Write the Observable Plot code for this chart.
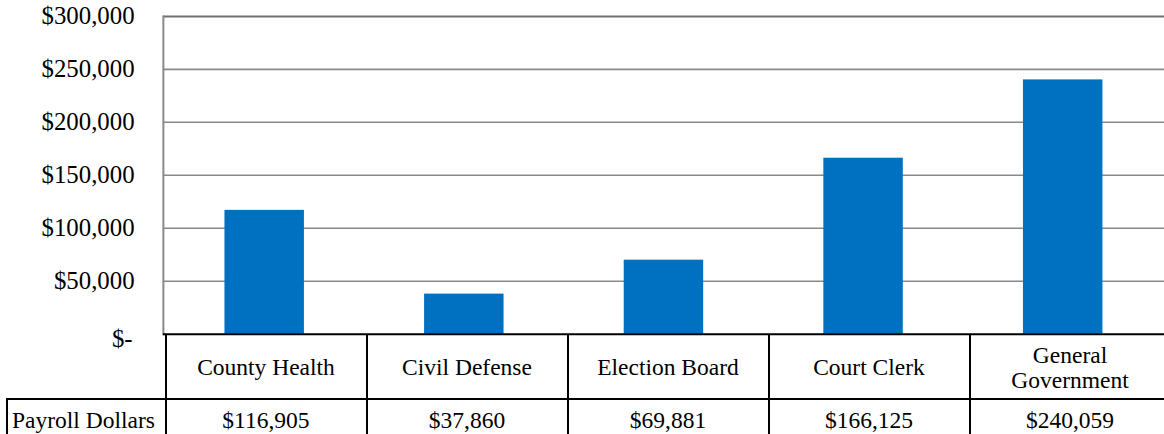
<!DOCTYPE html>
<html><head><meta charset="utf-8">
<script src="https://cdn.jsdelivr.net/npm/d3@7"></script>
<script src="https://cdn.jsdelivr.net/npm/@observablehq/plot@0.6"></script>
<style>
html,body{margin:0;padding:0;background:#fff;overflow:hidden;width:1164px;height:434px;}
#wrap{position:relative;width:1164px;height:434px;overflow:hidden;font-family:"Liberation Serif","Times New Roman",serif;color:#000;}
#wrap svg{position:absolute;left:0;top:0;}
.cell{position:absolute;box-sizing:border-box;display:flex;align-items:center;justify-content:center;text-align:center;font-size:23.5px;line-height:25px;white-space:pre;}
.line{position:absolute;background:#000;}
</style></head><body><div id="wrap"></div>
<script>
const categories = ["County Health", "Civil Defense", "Election Board", "Court Clerk", "General Government"];
const categoryLabels = ["County Health", "Civil Defense", "Election Board", "Court Clerk", "General\nGovernment"];
const payroll = [116905, 37860, 69881, 166125, 240059];
const seriesName = "Payroll Dollars";
const yTicks = [0, 50000, 100000, 150000, 200000, 250000, 300000];

const data = categories.map((c, i) => ({category: c, value: payroll[i]}));
const fmt = d3.format(",");
const money = v => "$" + fmt(v);

const chart = Plot.plot({
  width: 1172, height: 350,
  marginLeft: 164, marginRight: 0, marginTop: 16, marginBottom: 14,
  style: {fontFamily: "Liberation Serif, Times New Roman, serif", fontSize: "25px", color: "#000", background: "transparent", overflow: "visible"},
  x: {domain: categories, paddingInner: 0.6, paddingOuter: 0.3, axis: null, label: null},
  y: {domain: [0, 300000], range: [336, 16], axis: null, label: null},
  marks: [
    Plot.gridY(yTicks.slice(1, -1), {stroke: "#898989", strokeOpacity: 1, strokeWidth: 1.6}),
    Plot.gridY(yTicks.slice(-1), {stroke: "#707070", strokeOpacity: 1, strokeWidth: 2}),
    Plot.frame({anchor: "left", stroke: "#898989", strokeWidth: 2}),
    Plot.barY(data, {x: "category", y: "value", fill: "#0070C0"}),
    Plot.ruleY([0], {stroke: "#000", strokeWidth: 2}),
    Plot.axisY(yTicks.slice(1), {tickSize: 0, tickPadding: 29, tickFormat: money, fontSize: 25, label: null}),
    Plot.axisY(yTicks.slice(0, 1), {tickSize: 0, tickPadding: 31, tickFormat: () => "$-", fontSize: 25, dy: 5, label: null})
  ]
});

const wrap = document.getElementById("wrap");
wrap.appendChild(chart);

// data table under the plot, aligned to the x scale's bands
const xs = chart.scale("x");
const step = xs.step, bw = xs.bandwidth;
const ys = chart.scale("y");
const y0 = ys.apply(0);
const rowSplit = y0 + 63;
const bottom = 445;
function line(x, y, w, h) {
  const d = document.createElement("div");
  d.className = "line";
  Object.assign(d.style, {left: x + "px", top: y + "px", width: w + "px", height: h + "px"});
  wrap.appendChild(d);
}
function cell(x, y, w, h, text, align) {
  const d = document.createElement("div");
  d.className = "cell";
  Object.assign(d.style, {left: x + "px", top: y + "px", width: w + "px", height: h + "px"});
  if (align === "left") { d.style.justifyContent = "flex-start"; d.style.paddingLeft = "5px"; }
  d.textContent = text;
  wrap.appendChild(d);
}
const firstLeft = xs.apply(categories[0]) - (step - bw) / 2;
const tableLeft = 7;
line(tableLeft, rowSplit - 1, 1172 - tableLeft, 2);
line(tableLeft - 1, rowSplit - 1, 2, bottom - rowSplit);
line(firstLeft - 1, y0 - 1, 2, bottom - y0);
categories.forEach((c, i) => {
  const left = xs.apply(c) - (step - bw) / 2;
  line(left + step - 1, y0 - 1, 2, bottom - y0);
  cell(left, y0 + 1, step, rowSplit - y0 - 2, categoryLabels[i]);
  cell(left, rowSplit + 1, step, 40, money(payroll[i]));
});
cell(tableLeft, rowSplit + 1, firstLeft - tableLeft, 40, seriesName, "left");
</script>
</body></html>
